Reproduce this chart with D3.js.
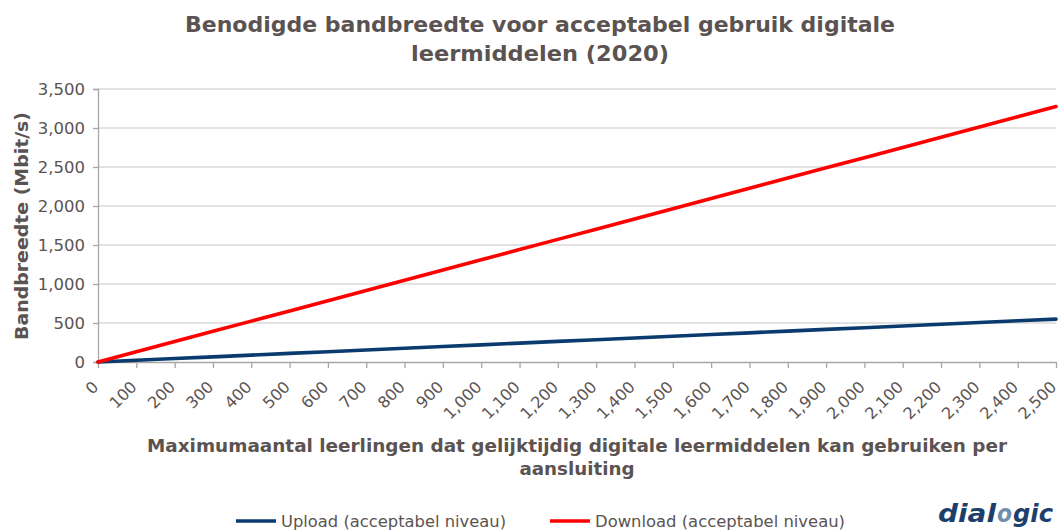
<!DOCTYPE html>
<html>
<head>
<meta charset="utf-8">
<script src="https://cdn.jsdelivr.net/npm/d3@7"></script>
<style>
  html, body { margin: 0; padding: 0; background: #ffffff; }
  svg { display: block; }
  text { font-family: "DejaVu Sans", Verdana, sans-serif; }
</style>
</head>
<body>
<svg id="chart" width="1059" height="531"></svg>
<script>
// Number of pupils using digital learning materials at the same time
const categories = [0, 100, 200, 300, 400, 500, 600, 700, 800, 900, 1000, 1100, 1200,
  1300, 1400, 1500, 1600, 1700, 1800, 1900, 2000, 2100, 2200, 2300, 2400, 2500];

// Required bandwidth in Mbit/s
const uploadValues = [0, 22, 44, 66, 88, 110, 132, 154, 176, 198, 220, 242, 264,
  286, 308, 330, 352, 374, 396, 418, 440, 462, 484, 506, 528, 550];
const downloadValues = [0, 131, 262, 393, 524, 655, 786, 917, 1048, 1179, 1310, 1441, 1572,
  1703, 1834, 1965, 2096, 2227, 2358, 2489, 2620, 2751, 2882, 3013, 3144, 3275];

const yTicks = [0, 500, 1000, 1500, 2000, 2500, 3000, 3500];

const seriesNames = ["Upload (acceptabel niveau)", "Download (acceptabel niveau)"];
const seriesColors = ["#0b3a6e", "#ff0000"];

const titleLines = ["Benodigde bandbreedte voor acceptabel gebruik digitale", "leermiddelen (2020)"];
const yTitle = "Bandbreedte (Mbit/s)";
const xTitleLines = ["Maximumaantal leerlingen dat gelijktijdig digitale leermiddelen kan gebruiken per", "aansluiting"];

const textColor = "#5b5351";
const svg = d3.select("#chart");

const plot = { left: 98, right: 1056, top: 89, bottom: 362 };

const x = d3.scalePoint().domain(categories).range([plot.left, plot.right]);
const y = d3.scaleLinear().domain([0, 3500]).range([plot.bottom, plot.top]);
const fmt = d3.format(",");

// Horizontal gridlines
svg.append("g")
  .selectAll("line")
  .data(yTicks.filter(d => d > 0))
  .join("line")
  .attr("x1", plot.left).attr("x2", plot.right)
  .attr("y1", d => y(d)).attr("y2", d => y(d))
  .attr("stroke", "#d9d9d9").attr("stroke-width", 1.3);

// Y axis
const yAxis = svg.append("g")
  .attr("transform", `translate(${plot.left},0)`)
  .call(d3.axisLeft(y).tickValues(yTicks).tickFormat(fmt).tickSize(5).tickPadding(8));
yAxis.select(".domain").attr("stroke", "#a6a6a6").attr("stroke-width", 1.3);
yAxis.selectAll(".tick line").attr("stroke", "#a6a6a6").attr("stroke-width", 1.3);
yAxis.selectAll(".tick text")
  .attr("fill", textColor).attr("font-size", 16.5)
  .attr("font-family", "DejaVu Sans, Verdana, sans-serif");

// X axis
const xAxis = svg.append("g")
  .attr("transform", `translate(0,${plot.bottom})`)
  .call(d3.axisBottom(x).tickFormat(fmt).tickSize(6).tickSizeOuter(0));
xAxis.select(".domain").attr("stroke", "#a6a6a6").attr("stroke-width", 1.3);
xAxis.selectAll(".tick line").attr("stroke", "#a6a6a6").attr("stroke-width", 1.3);
xAxis.selectAll(".tick text")
  .attr("fill", textColor).attr("font-size", 16)
  .attr("font-family", "DejaVu Sans, Verdana, sans-serif")
  .attr("text-anchor", "end")
  .attr("x", 0).attr("y", 0).attr("dy", "0.35em")
  .attr("transform", "translate(-3,22) rotate(-45)");

// Series lines
const line = d3.line().x((d, i) => x(categories[i])).y(d => y(d));
[uploadValues, downloadValues].forEach((vals, k) => {
  svg.append("path")
    .datum(vals)
    .attr("d", line)
    .attr("fill", "none")
    .attr("stroke", seriesColors[k])
    .attr("stroke-width", 3.6)
    .attr("stroke-linecap", "round");
});

// Title
const titleWidths = [710, 258];
svg.append("g").selectAll("text")
  .data(titleLines)
  .join("text")
  .attr("x", 540).attr("y", (d, i) => 32 + i * 28.5)
  .attr("text-anchor", "middle")
  .attr("font-size", 21.5).attr("font-weight", "bold")
  .attr("textLength", (d, i) => titleWidths[i])
  .attr("lengthAdjust", "spacingAndGlyphs")
  .attr("fill", textColor)
  .text(d => d);

// Y axis title
svg.append("text")
  .attr("transform", `translate(28,226) rotate(-90)`)
  .attr("text-anchor", "middle")
  .attr("font-size", 17).attr("font-weight", "bold")
  .attr("textLength", 228).attr("lengthAdjust", "spacingAndGlyphs")
  .attr("fill", textColor)
  .text(yTitle);

// X axis title
const xTitleWidths = [860, 115];
svg.append("g").selectAll("text")
  .data(xTitleLines)
  .join("text")
  .attr("x", 577).attr("y", (d, i) => 452 + i * 22.5)
  .attr("text-anchor", "middle")
  .attr("font-size", 17.5).attr("font-weight", "bold")
  .attr("textLength", (d, i) => xTitleWidths[i])
  .attr("lengthAdjust", "spacingAndGlyphs")
  .attr("fill", textColor)
  .text(d => d);

// Legend
const legendX = [236, 550];
const legend = svg.append("g");
seriesNames.forEach((name, k) => {
  legend.append("line")
    .attr("x1", legendX[k]).attr("x2", legendX[k] + 40)
    .attr("y1", 521).attr("y2", 521)
    .attr("stroke", seriesColors[k]).attr("stroke-width", 3.6);
  legend.append("text")
    .attr("x", legendX[k] + 45).attr("y", 527)
    .attr("font-size", 16.5)
    .attr("fill", textColor)
    .attr("textLength", k === 0 ? 225 : 250)
    .attr("lengthAdjust", "spacingAndGlyphs")
    .text(name);
});

// Logo, drawn in three parts so the "o" can take the lighter brand colour
const logoParts = [
  { t: "dial", x: 938, w: 58, c: "#1e3f6b" },
  { t: "o", x: 997, w: 15, c: "#6f8fae" },
  { t: "gic", x: 1013, w: 40, c: "#1e3f6b" }
];
svg.append("g").selectAll("text")
  .data(logoParts)
  .join("text")
  .attr("x", d => d.x).attr("y", 522)
  .attr("font-family", "Liberation Sans, Arial, sans-serif")
  .attr("font-size", 25).attr("font-weight", "bold").attr("font-style", "italic")
  .attr("textLength", d => d.w).attr("lengthAdjust", "spacingAndGlyphs")
  .attr("fill", d => d.c)
  .text(d => d.t);
</script>
</body>
</html>
